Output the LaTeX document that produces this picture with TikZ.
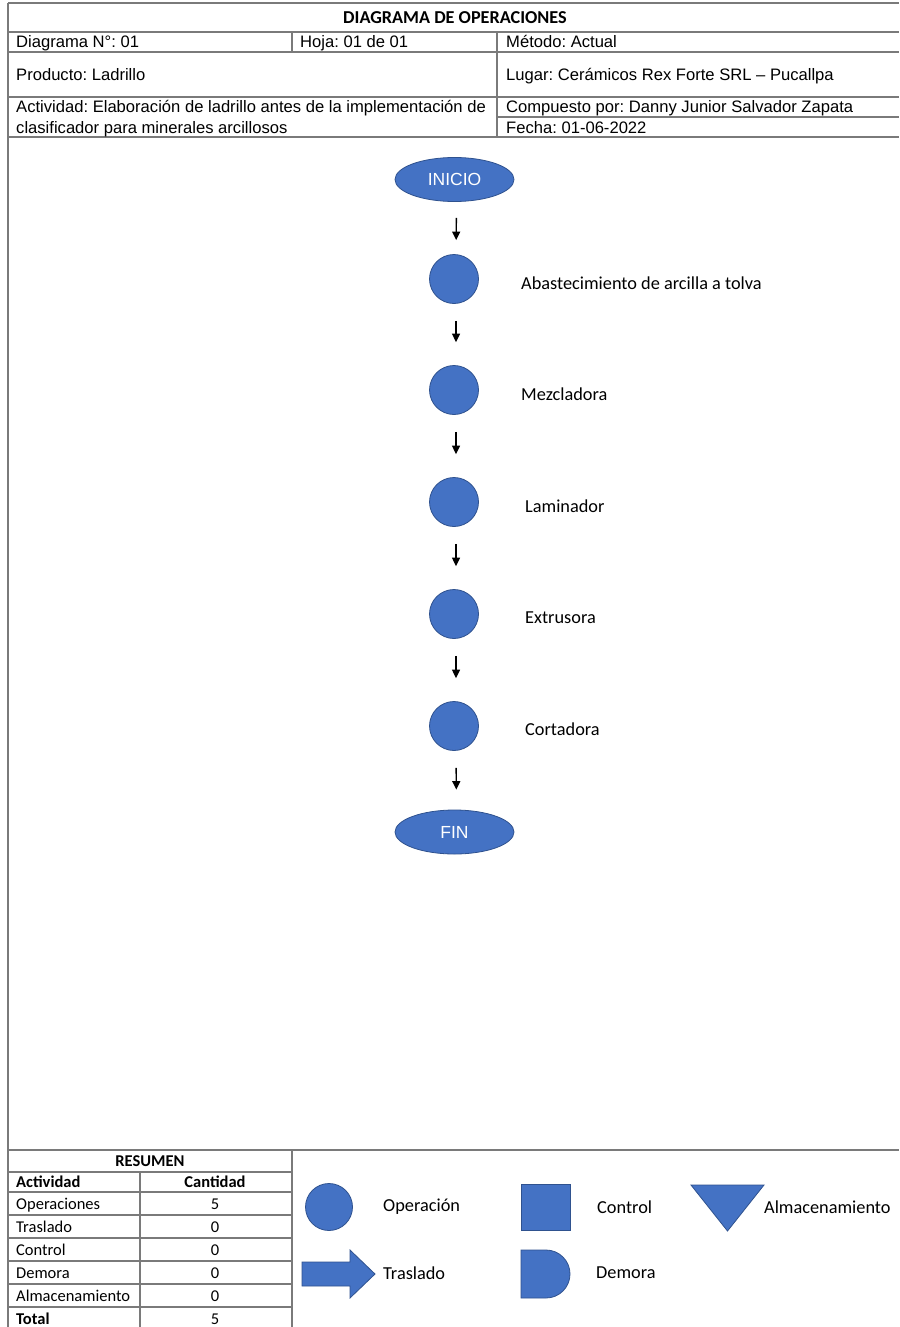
\documentclass[tikz,border=0pt]{standalone}
\usepackage{fontspec}
\setmainfont{Liberation Sans}
\newfontfamily\calibrifont{Carlito}
\usetikzlibrary{arrows.meta,shapes.geometric,calc}
\definecolor{opblue}{HTML}{4472C4}
\definecolor{opedge}{HTML}{2F528F}
\definecolor{rule}{HTML}{7A7A7A}
\frenchspacing
\tikzset{
  grid/.style={draw=rule,line width=1.1pt},
  hdr/.style={anchor=base west,inner sep=0pt,font=\fontsize{16.6}{19}\selectfont},
  lbl/.style={anchor=west,inner sep=0pt,font=\calibrifont\fontsize{18.3}{21}\selectfont},
  tbl/.style={anchor=base west,inner sep=0pt,font=\calibrifont\fontsize{16.5}{19}\selectfont},
  tblc/.style={anchor=base,inner sep=0pt,font=\calibrifont\fontsize{16.5}{19}\selectfont},
  tblb/.style={font=\calibrifont\bfseries\fontsize{16.5}{19}\selectfont},
  terminal/.style={ellipse,fill=opblue,draw=opedge,line width=0.8pt,minimum width=119pt,minimum height=44pt,inner sep=0pt,text=white,font=\fontsize{17.5}{20}\selectfont},
  opcircle/.style={circle,fill=opblue,draw=opedge,line width=0.8pt,minimum size=49pt,inner sep=0pt},
  shapefill/.style={fill=opblue,draw=opedge,line width=0.8pt},
  flowarrow/.style={line width=1.4pt,-{Triangle[length=8.5pt,width=8pt]}}
}
\begin{document}
\begin{tikzpicture}[x=1pt,y=-1pt]
\useasboundingbox (0,0) rectangle (899,1327);
\fill[white] (0,0) rectangle (899,1327);
% ---------- frame and header grid ----------
\draw[grid] (8,3) -- (899,3);
\draw[grid] (8,32) -- (899,32);
\draw[grid] (8,52) -- (899,52);
\draw[grid] (8,97) -- (899,97);
\draw[grid] (497,117) -- (899,117);
\draw[grid] (8,137) -- (899,137);
\draw[grid] (8,1150) -- (899,1150);
\draw[grid] (8,3) -- (8,1327);
\draw[grid] (292,32) -- (292,52);
\draw[grid] (497,32) -- (497,137);
% ---------- header texts ----------
\node[anchor=base,inner sep=0pt,font=\calibrifont\bfseries\fontsize{18.2}{21}\selectfont] (title) at (455,23.5) {DIAGRAMA DE OPERACIONES};
\node[hdr] (dn) at (16,48) {Diagrama N°: 01};
\node[hdr] (hoja) at (300,48) {Hoja: 01 de 01};
\node[hdr] (met) at (506,48) {Método: Actual};
\node[hdr] (prod) at (16,81) {Producto: Ladrillo};
\node[hdr] (lugar) at (506,81) {Lugar: Cerámicos Rex Forte SRL – Pucallpa};
\node[hdr] (act1) at (16,113) {Actividad: Elaboración de ladrillo antes de la implementación de};
\node[hdr] (act2) at (16,133) {clasificador para minerales arcillosos};
\node[hdr] (comp) at (506,113) {Compuesto por: Danny Junior Salvador Zapata};
\node[hdr] (fecha) at (506,133) {Fecha: 01-06-2022};
% ---------- flow ----------
\node[terminal] (inicio) at (454.5,179.5) {INICIO};
\node[opcircle] (o1) at (454,279) {};
\node[opcircle] (o2) at (454,390) {};
\node[opcircle] (o3) at (454,502) {};
\node[opcircle] (o4) at (454,614) {};
\node[opcircle] (o5) at (454,726) {};
\node[terminal] (fin) at (454.5,832) {FIN};
\node[lbl] (l1) at (521,283) {Abastecimiento de arcilla a tolva};
\node[lbl] (l2) at (521,394) {Mezcladora};
\node[lbl] (l3) at (525,506) {Laminador};
\node[lbl] (l4) at (525,618) {Extrusora};
\node[lbl] (l5) at (525,729) {Cortadora};
\draw[flowarrow,shorten <=16pt,shorten >=14pt] ([xshift=2pt]inicio.south) -- ([xshift=2pt]o1.north);
\draw[flowarrow,shorten <=17pt,shorten >=23pt] ([xshift=2pt]o1.south) -- ([xshift=2pt]o2.north);
\draw[flowarrow,shorten <=17pt,shorten >=23pt] ([xshift=2pt]o2.south) -- ([xshift=2pt]o3.north);
\draw[flowarrow,shorten <=17pt,shorten >=23pt] ([xshift=2pt]o3.south) -- ([xshift=2pt]o4.north);
\draw[flowarrow,shorten <=17pt,shorten >=23pt] ([xshift=2pt]o4.south) -- ([xshift=2pt]o5.north);
\draw[flowarrow,shorten <=17pt,shorten >=20pt] ([xshift=2pt]o5.south) -- ([xshift=2pt]fin.north);
% ---------- summary table ----------
\foreach \yy in {1172,1192,1215,1238,1261,1284,1307} {\draw[grid] (8,\yy) -- (292,\yy);}
\draw[grid] (140,1172) -- (140,1327);
\draw[grid] (292,1150) -- (292,1327);
\node[anchor=base,inner sep=0pt,tblb] (res) at (150,1166) {RESUMEN};
\node[tbl,tblb] (ha) at (16,1187) {Actividad};
\node[tblc,tblb] (hc) at (215,1187) {Cantidad};
\node[tbl] (r1) at (16,1209) {Operaciones};
\node[tbl] (r2) at (16,1232) {Traslado};
\node[tbl] (r3) at (16,1255) {Control};
\node[tbl] (r4) at (16,1278) {Demora};
\node[tbl] (r5) at (16,1301) {Almacenamiento};
\node[tbl,tblb] (r6) at (16,1324) {Total};
\node[tblc] (v1) at (215,1209) {5};
\node[tblc] (v2) at (215,1232) {0};
\node[tblc] (v3) at (215,1255) {0};
\node[tblc] (v4) at (215,1278) {0};
\node[tblc] (v5) at (215,1301) {0};
\node[tblc] (v6) at (215,1324) {5};
% ---------- legend ----------
\node[opcircle,minimum size=47pt] (lgop) at (329,1207) {};
\node[lbl] (lgopt) at (383,1207) {Operación};
\fill[shapefill] (521,1184) rectangle (570,1230);
\node[lbl] (lgct) at (597,1207) {Control};
\fill[shapefill] (691,1185) -- (764,1185) -- (727.5,1231) -- cycle;
\node[lbl] (lgat) at (764,1207) {Almacenamiento};
\fill[shapefill] (302,1262) -- (350,1262) -- (350,1250) -- (375,1274) -- (350,1298) -- (350,1286) -- (302,1286) -- cycle;
\node[lbl] (lgtt) at (383,1273) {Traslado};
\fill[shapefill] (521,1250) -- (546,1250) arc[start angle=-90,end angle=90,radius=24] -- (521,1298) -- cycle;
\node[lbl] (lgdt) at (596,1273) {Demora};
\end{tikzpicture}
\end{document}
